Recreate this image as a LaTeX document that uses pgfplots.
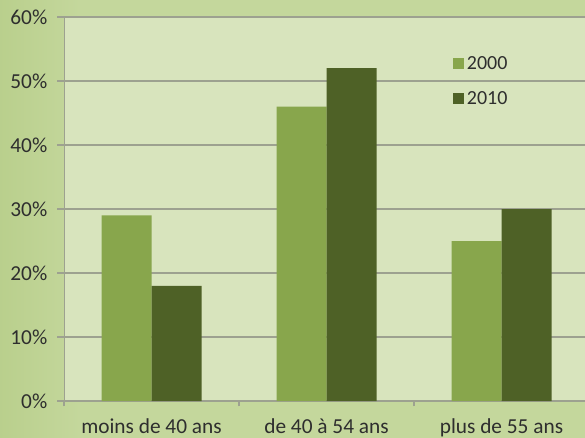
\documentclass[border=0pt]{standalone}
\usepackage{pgfplots}
\pgfplotsset{compat=1.18}
\usepackage{fontspec}
\setmainfont{Carlito}
\definecolor{bgout}{HTML}{C4D79C}
\definecolor{bgleft}{HTML}{B9CF8C}
\definecolor{plotbg}{HTML}{D8E4BD}
\definecolor{cA}{HTML}{88A64C}
\definecolor{cB}{HTML}{4E6126}
\definecolor{gridc}{HTML}{9DA190}
\definecolor{txt}{HTML}{2E2E2E}
\begin{document}
\begin{tikzpicture}
\clip (0,0) rectangle (438.75pt,327.75pt);
\fill[bgout] (-2pt,-2pt) rectangle (440pt,330pt);
\shade[left color=bgleft, right color=bgout, shading angle=90] (-2pt,-2pt) rectangle (60pt,330pt);
\begin{axis}[
  at={(48pt,27pt)}, anchor=south west,
  scale only axis, width=393.75pt, height=288pt,
  xmin=-0.5, xmax=2.5, ymin=0, ymax=60,
  ybar=0pt, bar width=37.5pt,
  axis background/.style={fill=plotbg},
  axis line style={draw=gridc},
  axis x line*=bottom, axis y line*=left,
  ymajorgrids, grid style={draw=gridc, line width=0.8pt},
  ytick={0,10,20,30,40,50,60},
  yticklabel={\pgfmathprintnumber{\tick}\%},
  /pgf/number format/assume math mode=true,
  xtick={0,1,2},
  xticklabels={moins de 40 ans, de 40 à 54 ans, plus de 55 ans},
  minor xtick={-0.5,0.5,1.5,2.5},
  tick align=outside,
  major tick length=5pt,
  minor tick length=4pt,
  x tick style={draw=none},
  minor x tick style={draw=gridc, line width=0.8pt},
  y tick style={draw=gridc, line width=0.8pt},
  ticklabel style={font=\fontsize{16}{19}\selectfont, text=txt},
  yticklabel style={xshift=-4pt},
  xticklabel style={yshift=-4.5pt},
  legend style={draw=none, fill=none, at={(0.741,0.905)}, anchor=north west,
    font=\fontsize{15}{18}\selectfont, text=txt, inner sep=0pt,
    row sep=11pt},
  legend cell align=left,
  legend image code/.code={\fill[#1] (0pt,-4.1pt) rectangle (8.25pt,4.1pt);},
]
\addplot[draw=none, fill=cA] coordinates {(0,29) (1,46) (2,25)};
\addplot[draw=none, fill=cB] coordinates {(0,18) (1,52) (2,30)};
\legend{2000,2010}
\end{axis}
\end{tikzpicture}
\end{document}
